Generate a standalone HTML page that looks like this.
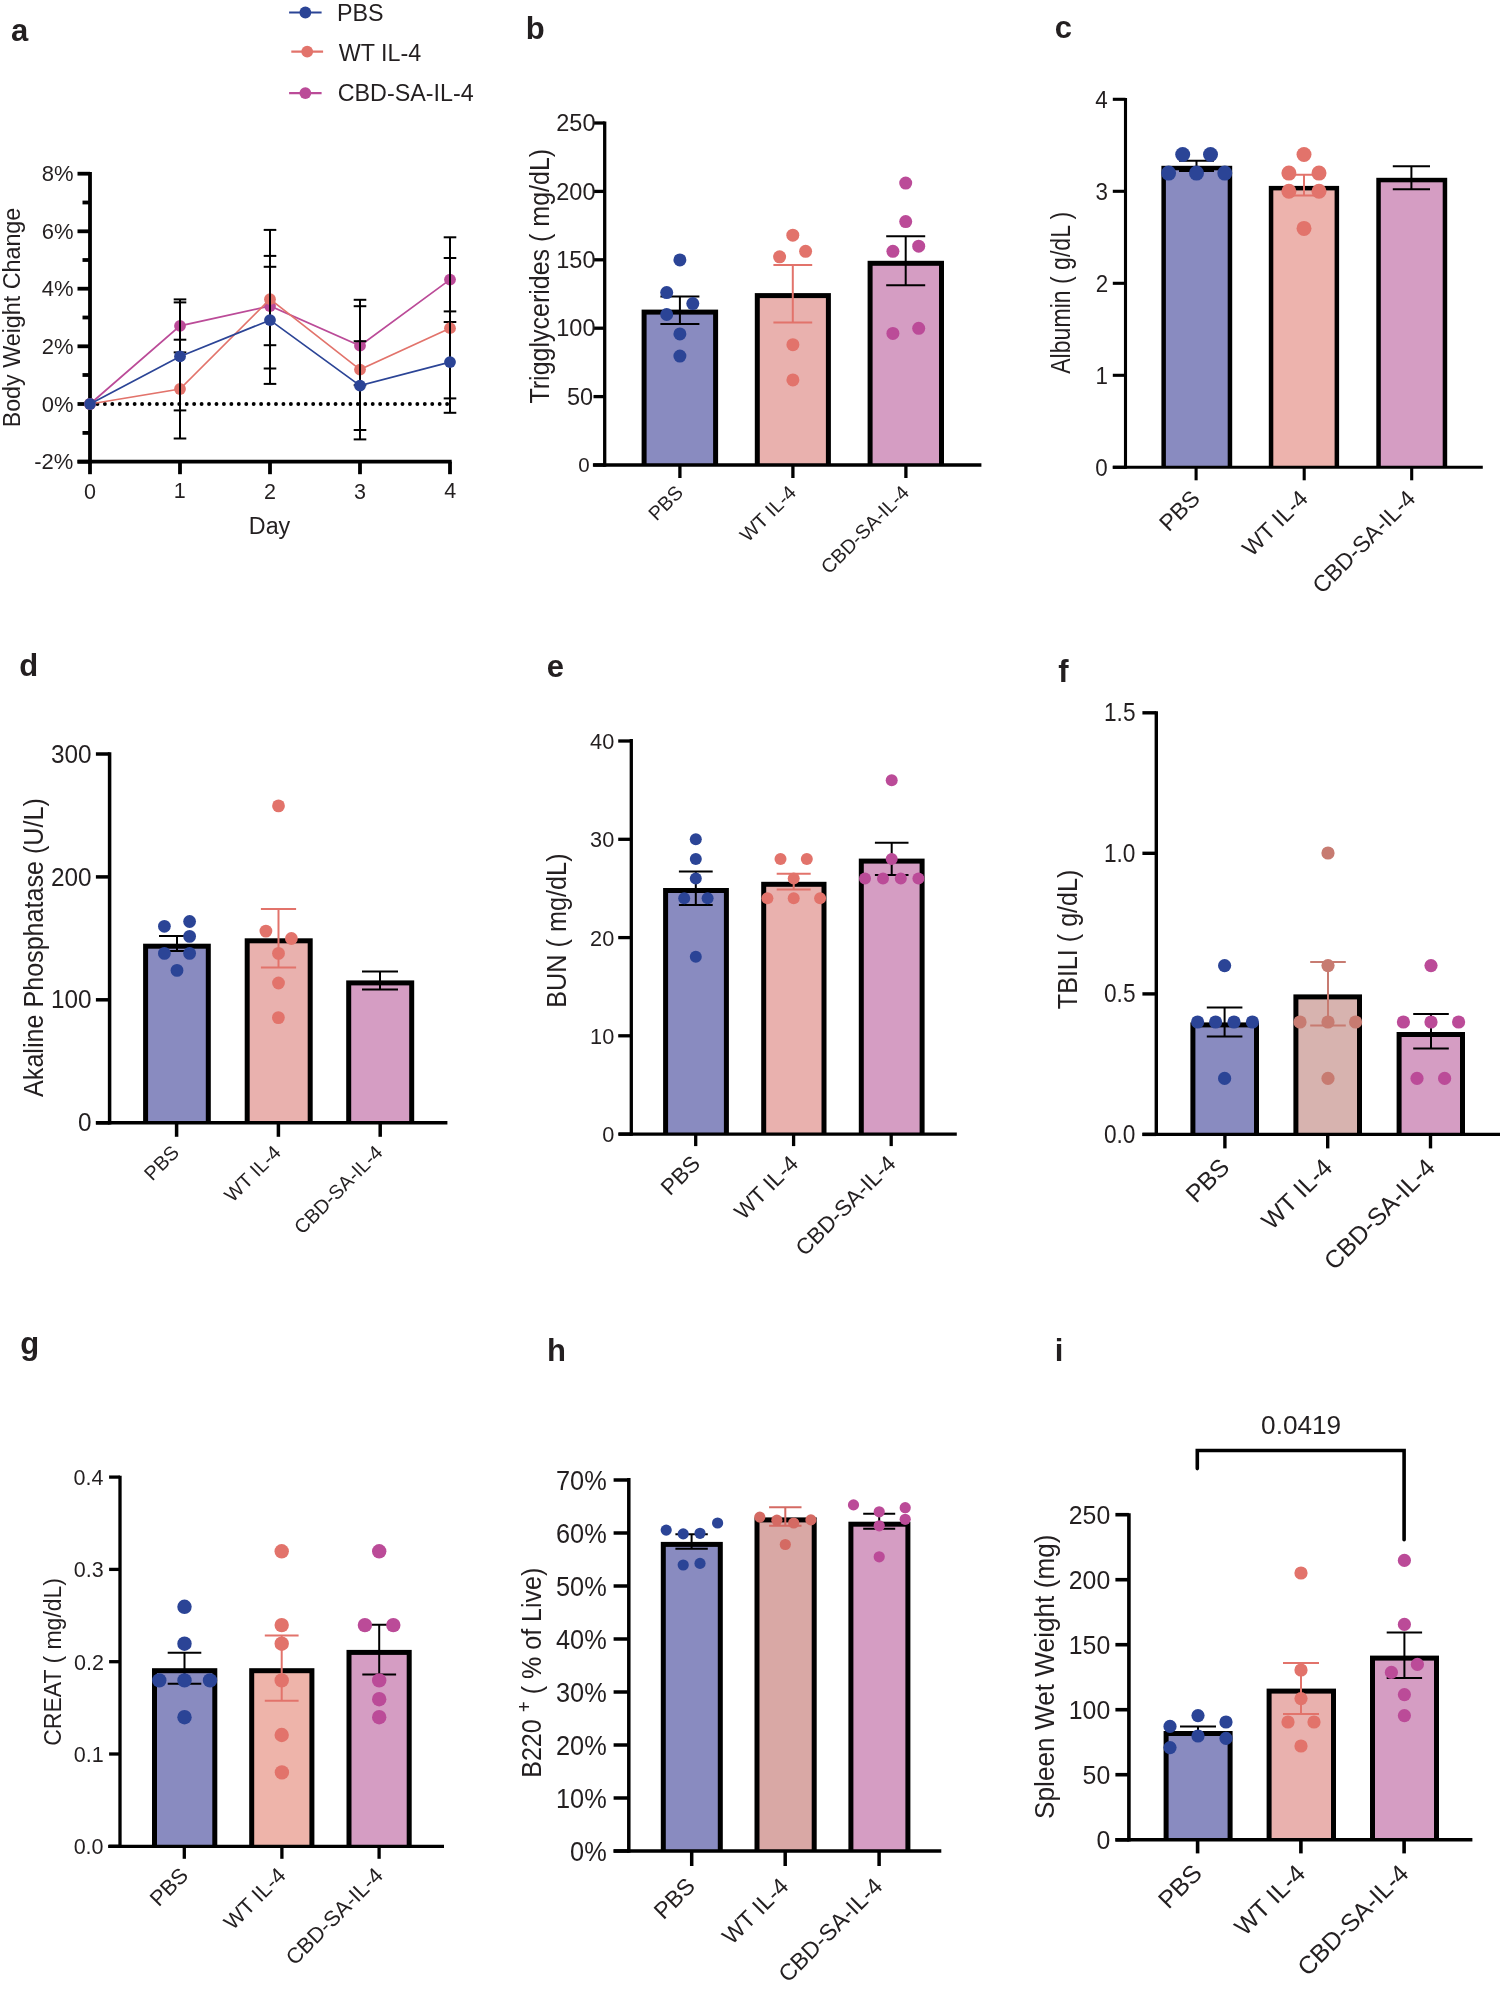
<!DOCTYPE html>
<html><head><meta charset="utf-8"><title>Figure</title>
<style>html,body{margin:0;padding:0;background:#fff;}svg{display:block;will-change:transform;}</style>
</head><body>
<svg width="1500" height="1989" viewBox="0 0 1500 1989" font-family='"Liberation Sans", sans-serif'>
<rect width="1500" height="1989" fill="#fff"/>
<text x="11.07" y="41.3" font-size="31" font-weight="bold" fill="#231f20">a</text>
<line x1="90" y1="404" x2="447.5" y2="404" stroke="#000" stroke-width="3.9" stroke-linecap="round" stroke-dasharray="0 7.44"/>
<line x1="90" y1="172" x2="90" y2="463.6" stroke="#000" stroke-width="3.8" stroke-linecap="butt"/>
<line x1="77.5" y1="461.7" x2="451.7" y2="461.7" stroke="#000" stroke-width="3.8" stroke-linecap="butt"/>
<line x1="77.5" y1="173.7" x2="90" y2="173.7" stroke="#000" stroke-width="3.8" stroke-linecap="butt"/>
<line x1="77.5" y1="231.3" x2="90" y2="231.3" stroke="#000" stroke-width="3.8" stroke-linecap="butt"/>
<line x1="77.5" y1="288.7" x2="90" y2="288.7" stroke="#000" stroke-width="3.8" stroke-linecap="butt"/>
<line x1="77.5" y1="346.3" x2="90" y2="346.3" stroke="#000" stroke-width="3.8" stroke-linecap="butt"/>
<line x1="77.5" y1="404" x2="90" y2="404" stroke="#000" stroke-width="3.8" stroke-linecap="butt"/>
<line x1="77.5" y1="461.7" x2="90" y2="461.7" stroke="#000" stroke-width="3.8" stroke-linecap="butt"/>
<line x1="82.5" y1="202.5" x2="90" y2="202.5" stroke="#000" stroke-width="3.8" stroke-linecap="butt"/>
<line x1="82.5" y1="260" x2="90" y2="260" stroke="#000" stroke-width="3.8" stroke-linecap="butt"/>
<line x1="82.5" y1="317.5" x2="90" y2="317.5" stroke="#000" stroke-width="3.8" stroke-linecap="butt"/>
<line x1="82.5" y1="375" x2="90" y2="375" stroke="#000" stroke-width="3.8" stroke-linecap="butt"/>
<line x1="82.5" y1="432.9" x2="90" y2="432.9" stroke="#000" stroke-width="3.8" stroke-linecap="butt"/>
<line x1="90" y1="461.7" x2="90" y2="474.2" stroke="#000" stroke-width="3.8" stroke-linecap="butt"/>
<line x1="180" y1="461.7" x2="180" y2="474.2" stroke="#000" stroke-width="3.8" stroke-linecap="butt"/>
<line x1="270" y1="461.7" x2="270" y2="474.2" stroke="#000" stroke-width="3.8" stroke-linecap="butt"/>
<line x1="360" y1="461.7" x2="360" y2="474.2" stroke="#000" stroke-width="3.8" stroke-linecap="butt"/>
<line x1="450" y1="461.7" x2="450" y2="474.2" stroke="#000" stroke-width="3.8" stroke-linecap="butt"/>
<text x="41.68" y="181.29" font-size="22" fill="#231f20">8%</text>
<text x="41.68" y="238.89" font-size="22" fill="#231f20">6%</text>
<text x="41.68" y="296.29" font-size="22" fill="#231f20">4%</text>
<text x="41.68" y="353.94" font-size="22" fill="#231f20">2%</text>
<text x="41.68" y="411.59" font-size="22" fill="#231f20">0%</text>
<text x="34.31" y="469.34" font-size="22" fill="#231f20">-2%</text>
<text x="83.98" y="498.55" font-size="21.5" fill="#231f20">0</text>
<text x="173.71" y="498.33" font-size="21.5" fill="#231f20">1</text>
<text x="264.03" y="498.55" font-size="21.5" fill="#231f20">2</text>
<text x="354.03" y="498.55" font-size="21.5" fill="#231f20">3</text>
<text x="444.14" y="498.33" font-size="21.5" fill="#231f20">4</text>
<text x="248.83" y="533.6" font-size="23.3" fill="#231f20">Day</text>
<text transform="translate(20.41,427.36) rotate(-90) scale(0.9668,1)" font-size="24.1" fill="#231f20">Body Weight Change</text>
<polyline points="90,404 180,325.9 270,306 360,345.7 450,279.6" fill="none" stroke="#bb4b98" stroke-width="1.7"/>
<line x1="180" y1="299.4" x2="180" y2="352.4" stroke="#000" stroke-width="2" stroke-linecap="butt"/>
<line x1="173.7" y1="299.4" x2="186.3" y2="299.4" stroke="#000" stroke-width="2" stroke-linecap="butt"/>
<line x1="173.7" y1="352.4" x2="186.3" y2="352.4" stroke="#000" stroke-width="2" stroke-linecap="butt"/>
<line x1="270" y1="266.8" x2="270" y2="345.2" stroke="#000" stroke-width="2" stroke-linecap="butt"/>
<line x1="263.7" y1="266.8" x2="276.3" y2="266.8" stroke="#000" stroke-width="2" stroke-linecap="butt"/>
<line x1="263.7" y1="345.2" x2="276.3" y2="345.2" stroke="#000" stroke-width="2" stroke-linecap="butt"/>
<line x1="360" y1="306.2" x2="360" y2="385.2" stroke="#000" stroke-width="2" stroke-linecap="butt"/>
<line x1="353.7" y1="306.2" x2="366.3" y2="306.2" stroke="#000" stroke-width="2" stroke-linecap="butt"/>
<line x1="353.7" y1="385.2" x2="366.3" y2="385.2" stroke="#000" stroke-width="2" stroke-linecap="butt"/>
<line x1="450" y1="237.3" x2="450" y2="322" stroke="#000" stroke-width="2" stroke-linecap="butt"/>
<line x1="443.7" y1="237.3" x2="456.3" y2="237.3" stroke="#000" stroke-width="2" stroke-linecap="butt"/>
<line x1="443.7" y1="322" x2="456.3" y2="322" stroke="#000" stroke-width="2" stroke-linecap="butt"/>
<circle cx="90" cy="404" r="5.9" fill="#bb4b98"/>
<circle cx="180" cy="325.9" r="5.9" fill="#bb4b98"/>
<circle cx="270" cy="306" r="5.9" fill="#bb4b98"/>
<circle cx="360" cy="345.7" r="5.9" fill="#bb4b98"/>
<circle cx="450" cy="279.6" r="5.9" fill="#bb4b98"/>
<polyline points="90,404 180,389 270,299.2 360,369.6 450,328.2" fill="none" stroke="#e2736b" stroke-width="1.7"/>
<line x1="180" y1="339.7" x2="180" y2="438.5" stroke="#000" stroke-width="2" stroke-linecap="butt"/>
<line x1="173.7" y1="339.7" x2="186.3" y2="339.7" stroke="#000" stroke-width="2" stroke-linecap="butt"/>
<line x1="173.7" y1="438.5" x2="186.3" y2="438.5" stroke="#000" stroke-width="2" stroke-linecap="butt"/>
<line x1="270" y1="229.9" x2="270" y2="368.5" stroke="#000" stroke-width="2" stroke-linecap="butt"/>
<line x1="263.7" y1="229.9" x2="276.3" y2="229.9" stroke="#000" stroke-width="2" stroke-linecap="butt"/>
<line x1="263.7" y1="368.5" x2="276.3" y2="368.5" stroke="#000" stroke-width="2" stroke-linecap="butt"/>
<line x1="360" y1="299.8" x2="360" y2="439.4" stroke="#000" stroke-width="2" stroke-linecap="butt"/>
<line x1="353.7" y1="299.8" x2="366.3" y2="299.8" stroke="#000" stroke-width="2" stroke-linecap="butt"/>
<line x1="353.7" y1="439.4" x2="366.3" y2="439.4" stroke="#000" stroke-width="2" stroke-linecap="butt"/>
<line x1="450" y1="258" x2="450" y2="398.4" stroke="#000" stroke-width="2" stroke-linecap="butt"/>
<line x1="443.7" y1="258" x2="456.3" y2="258" stroke="#000" stroke-width="2" stroke-linecap="butt"/>
<line x1="443.7" y1="398.4" x2="456.3" y2="398.4" stroke="#000" stroke-width="2" stroke-linecap="butt"/>
<circle cx="90" cy="404" r="5.9" fill="#e2736b"/>
<circle cx="180" cy="389" r="5.9" fill="#e2736b"/>
<circle cx="270" cy="299.2" r="5.9" fill="#e2736b"/>
<circle cx="360" cy="369.6" r="5.9" fill="#e2736b"/>
<circle cx="450" cy="328.2" r="5.9" fill="#e2736b"/>
<polyline points="90,404 180,356.4 270,320.1 360,385.6 450,362.1" fill="none" stroke="#2b4496" stroke-width="1.7"/>
<line x1="180" y1="302.4" x2="180" y2="410.4" stroke="#000" stroke-width="2" stroke-linecap="butt"/>
<line x1="173.7" y1="302.4" x2="186.3" y2="302.4" stroke="#000" stroke-width="2" stroke-linecap="butt"/>
<line x1="173.7" y1="410.4" x2="186.3" y2="410.4" stroke="#000" stroke-width="2" stroke-linecap="butt"/>
<line x1="270" y1="255.9" x2="270" y2="383.9" stroke="#000" stroke-width="2" stroke-linecap="butt"/>
<line x1="263.7" y1="255.9" x2="276.3" y2="255.9" stroke="#000" stroke-width="2" stroke-linecap="butt"/>
<line x1="263.7" y1="383.9" x2="276.3" y2="383.9" stroke="#000" stroke-width="2" stroke-linecap="butt"/>
<line x1="360" y1="341.2" x2="360" y2="430" stroke="#000" stroke-width="2" stroke-linecap="butt"/>
<line x1="353.7" y1="341.2" x2="366.3" y2="341.2" stroke="#000" stroke-width="2" stroke-linecap="butt"/>
<line x1="353.7" y1="430" x2="366.3" y2="430" stroke="#000" stroke-width="2" stroke-linecap="butt"/>
<line x1="450" y1="311.4" x2="450" y2="412.8" stroke="#000" stroke-width="2" stroke-linecap="butt"/>
<line x1="443.7" y1="311.4" x2="456.3" y2="311.4" stroke="#000" stroke-width="2" stroke-linecap="butt"/>
<line x1="443.7" y1="412.8" x2="456.3" y2="412.8" stroke="#000" stroke-width="2" stroke-linecap="butt"/>
<circle cx="90" cy="404" r="5.9" fill="#2b4496"/>
<circle cx="180" cy="356.4" r="5.9" fill="#2b4496"/>
<circle cx="270" cy="320.1" r="5.9" fill="#2b4496"/>
<circle cx="360" cy="385.6" r="5.9" fill="#2b4496"/>
<circle cx="450" cy="362.1" r="5.9" fill="#2b4496"/>
<line x1="289.1" y1="12.5" x2="321.6" y2="12.5" stroke="#2b4496" stroke-width="2.1" stroke-linecap="butt"/>
<circle cx="305.35" cy="12.5" r="5.9" fill="#2b4496"/>
<line x1="291.3" y1="51.6" x2="323.1" y2="51.6" stroke="#e2736b" stroke-width="2.1" stroke-linecap="butt"/>
<circle cx="307.2" cy="51.6" r="5.9" fill="#e2736b"/>
<line x1="289.1" y1="93.1" x2="321.6" y2="93.1" stroke="#bb4b98" stroke-width="2.1" stroke-linecap="butt"/>
<circle cx="305.35" cy="93.1" r="5.9" fill="#bb4b98"/>
<text x="337.04" y="20.5" font-size="23.3" fill="#231f20">PBS</text>
<text x="338.78" y="60.9" font-size="23.3" fill="#231f20">WT IL-4</text>
<text x="337.73" y="101.2" font-size="23.3" fill="#231f20">CBD-SA-IL-4</text>
<text x="525.78" y="38.6" font-size="31" font-weight="bold" fill="#231f20">b</text>
<rect x="641.6" y="309.6" width="76.5" height="155.4" fill="#000"/>
<rect x="646.6" y="314.6" width="66.5" height="150.4" fill="#898bc0"/>
<rect x="754.8" y="293.1" width="76.1" height="171.9" fill="#000"/>
<rect x="759.8" y="298.1" width="66.1" height="166.9" fill="#e9b1ae"/>
<rect x="867.6" y="260.8" width="76.4" height="204.2" fill="#000"/>
<rect x="872.6" y="265.8" width="66.4" height="199.2" fill="#d59dc3"/>
<line x1="604.7" y1="121.5" x2="604.7" y2="466.65" stroke="#000" stroke-width="3.3" stroke-linecap="butt"/>
<line x1="592.9" y1="465" x2="981.4" y2="465" stroke="#000" stroke-width="3.3" stroke-linecap="butt"/>
<line x1="593.5" y1="123" x2="604.7" y2="123" stroke="#000" stroke-width="3.3" stroke-linecap="butt"/>
<line x1="593.5" y1="191.4" x2="604.7" y2="191.4" stroke="#000" stroke-width="3.3" stroke-linecap="butt"/>
<line x1="593.5" y1="259.8" x2="604.7" y2="259.8" stroke="#000" stroke-width="3.3" stroke-linecap="butt"/>
<line x1="593.5" y1="328.2" x2="604.7" y2="328.2" stroke="#000" stroke-width="3.3" stroke-linecap="butt"/>
<line x1="593.5" y1="396.6" x2="604.7" y2="396.6" stroke="#000" stroke-width="3.3" stroke-linecap="butt"/>
<line x1="593.5" y1="465" x2="604.7" y2="465" stroke="#000" stroke-width="3.3" stroke-linecap="butt"/>
<line x1="679.9" y1="465" x2="679.9" y2="478" stroke="#000" stroke-width="3.3" stroke-linecap="butt"/>
<line x1="792.9" y1="465" x2="792.9" y2="478" stroke="#000" stroke-width="3.3" stroke-linecap="butt"/>
<line x1="905.9" y1="465" x2="905.9" y2="478" stroke="#000" stroke-width="3.3" stroke-linecap="butt"/>
<line x1="679.9" y1="296.4" x2="679.9" y2="323.9" stroke="#000" stroke-width="2" stroke-linecap="butt"/>
<line x1="660.4" y1="296.4" x2="699.4" y2="296.4" stroke="#000" stroke-width="2" stroke-linecap="butt"/>
<line x1="660.4" y1="323.9" x2="699.4" y2="323.9" stroke="#000" stroke-width="2" stroke-linecap="butt"/>
<line x1="792.8" y1="265" x2="792.8" y2="322.4" stroke="#e2736b" stroke-width="2" stroke-linecap="butt"/>
<line x1="773.4" y1="265" x2="812.2" y2="265" stroke="#e2736b" stroke-width="2" stroke-linecap="butt"/>
<line x1="773.4" y1="322.4" x2="812.2" y2="322.4" stroke="#e2736b" stroke-width="2" stroke-linecap="butt"/>
<line x1="905.7" y1="236.3" x2="905.7" y2="285.2" stroke="#000" stroke-width="2" stroke-linecap="butt"/>
<line x1="886.2" y1="236.3" x2="925.2" y2="236.3" stroke="#000" stroke-width="2" stroke-linecap="butt"/>
<line x1="886.2" y1="285.2" x2="925.2" y2="285.2" stroke="#000" stroke-width="2" stroke-linecap="butt"/>
<circle cx="679.9" cy="259.9" r="6.5" fill="#2b4496"/>
<circle cx="666.7" cy="292.6" r="6.5" fill="#2b4496"/>
<circle cx="692.8" cy="303.6" r="6.5" fill="#2b4496"/>
<circle cx="666.7" cy="314.5" r="6.5" fill="#2b4496"/>
<circle cx="679.9" cy="333.9" r="6.5" fill="#2b4496"/>
<circle cx="679.9" cy="356.1" r="6.5" fill="#2b4496"/>
<circle cx="792.8" cy="235.2" r="6.5" fill="#e2736b"/>
<circle cx="779.6" cy="256.8" r="6.5" fill="#e2736b"/>
<circle cx="805.6" cy="251.3" r="6.5" fill="#e2736b"/>
<circle cx="792.9" cy="344.7" r="6.5" fill="#e2736b"/>
<circle cx="792.9" cy="379.9" r="6.5" fill="#e2736b"/>
<circle cx="905.7" cy="183.1" r="6.5" fill="#bb4b98"/>
<circle cx="905.7" cy="221.6" r="6.5" fill="#bb4b98"/>
<circle cx="892.9" cy="251.3" r="6.5" fill="#bb4b98"/>
<circle cx="918.7" cy="246.2" r="6.5" fill="#bb4b98"/>
<circle cx="892.9" cy="333.4" r="6.5" fill="#bb4b98"/>
<circle cx="918.7" cy="328.3" r="6.5" fill="#bb4b98"/>
<text x="556.3" y="131.11" font-size="23.5" fill="#231f20">250</text>
<text x="556.3" y="199.51" font-size="23.5" fill="#231f20">200</text>
<text x="556.3" y="267.91" font-size="23.5" fill="#231f20">150</text>
<text x="556.3" y="336.31" font-size="23.5" fill="#231f20">100</text>
<text x="566.94" y="404.71" font-size="23.5" fill="#231f20">50</text>
<text x="578.24" y="472.07" font-size="20.5" fill="#231f20">0</text>
<text transform="translate(684.3,493.8) rotate(-45)" font-size="19.7" text-anchor="end" fill="#231f20">PBS</text>
<text transform="translate(797.3,493.8) rotate(-45)" font-size="19.7" text-anchor="end" fill="#231f20">WT IL-4</text>
<text transform="translate(910.3,493.8) rotate(-45)" font-size="19.7" text-anchor="end" fill="#231f20">CBD-SA-IL-4</text>
<text transform="translate(549.25,403.6) rotate(-90) scale(0.9266,1)" font-size="27" fill="#231f20">Trigglycerides ( mg/dL)</text>
<text x="1054.66" y="38.1" font-size="31" font-weight="bold" fill="#231f20">c</text>
<rect x="1161.4" y="165.8" width="70.8" height="301.5" fill="#000"/>
<rect x="1165.9" y="170.3" width="61.8" height="297" fill="#898bc0"/>
<rect x="1268.8" y="185.9" width="70.3" height="281.4" fill="#000"/>
<rect x="1273.3" y="190.4" width="61.3" height="276.9" fill="#edb3ad"/>
<rect x="1376.3" y="177.8" width="70.9" height="289.5" fill="#000"/>
<rect x="1380.8" y="182.3" width="61.9" height="285" fill="#d59dc3"/>
<line x1="1125.5" y1="97.9" x2="1125.5" y2="468.85" stroke="#000" stroke-width="3.1" stroke-linecap="butt"/>
<line x1="1112.8" y1="467.3" x2="1482.8" y2="467.3" stroke="#000" stroke-width="3.1" stroke-linecap="butt"/>
<line x1="1112.8" y1="99.3" x2="1125.5" y2="99.3" stroke="#000" stroke-width="3.1" stroke-linecap="butt"/>
<line x1="1112.8" y1="191.3" x2="1125.5" y2="191.3" stroke="#000" stroke-width="3.1" stroke-linecap="butt"/>
<line x1="1112.8" y1="283.3" x2="1125.5" y2="283.3" stroke="#000" stroke-width="3.1" stroke-linecap="butt"/>
<line x1="1112.8" y1="375.3" x2="1125.5" y2="375.3" stroke="#000" stroke-width="3.1" stroke-linecap="butt"/>
<line x1="1112.8" y1="467.3" x2="1125.5" y2="467.3" stroke="#000" stroke-width="3.1" stroke-linecap="butt"/>
<line x1="1196.1" y1="467.3" x2="1196.1" y2="480.3" stroke="#000" stroke-width="3.1" stroke-linecap="butt"/>
<line x1="1304.2" y1="467.3" x2="1304.2" y2="480.3" stroke="#000" stroke-width="3.1" stroke-linecap="butt"/>
<line x1="1411.7" y1="467.3" x2="1411.7" y2="480.3" stroke="#000" stroke-width="3.1" stroke-linecap="butt"/>
<line x1="1196.5" y1="160.7" x2="1196.5" y2="171" stroke="#000" stroke-width="2" stroke-linecap="butt"/>
<line x1="1179" y1="160.7" x2="1214" y2="160.7" stroke="#000" stroke-width="2" stroke-linecap="butt"/>
<line x1="1179" y1="171" x2="1214" y2="171" stroke="#000" stroke-width="2" stroke-linecap="butt"/>
<line x1="1304" y1="174.7" x2="1304" y2="195.4" stroke="#e2736b" stroke-width="2" stroke-linecap="butt"/>
<line x1="1287" y1="174.7" x2="1321" y2="174.7" stroke="#e2736b" stroke-width="2" stroke-linecap="butt"/>
<line x1="1287" y1="195.4" x2="1321" y2="195.4" stroke="#e2736b" stroke-width="2" stroke-linecap="butt"/>
<line x1="1411.4" y1="166.2" x2="1411.4" y2="189.2" stroke="#000" stroke-width="2" stroke-linecap="butt"/>
<line x1="1392.8" y1="166.2" x2="1430" y2="166.2" stroke="#000" stroke-width="2" stroke-linecap="butt"/>
<line x1="1392.8" y1="189.2" x2="1430" y2="189.2" stroke="#000" stroke-width="2" stroke-linecap="butt"/>
<circle cx="1182.7" cy="154.5" r="7.5" fill="#2b4496"/>
<circle cx="1210.5" cy="154.5" r="7.5" fill="#2b4496"/>
<circle cx="1168.6" cy="173.1" r="7.5" fill="#2b4496"/>
<circle cx="1196.5" cy="173.1" r="7.5" fill="#2b4496"/>
<circle cx="1224.8" cy="173.1" r="7.5" fill="#2b4496"/>
<circle cx="1304" cy="154.5" r="7.5" fill="#e2736b"/>
<circle cx="1288.9" cy="173.1" r="7.5" fill="#e2736b"/>
<circle cx="1319" cy="173.1" r="7.5" fill="#e2736b"/>
<circle cx="1288.9" cy="191.2" r="7.5" fill="#e2736b"/>
<circle cx="1319" cy="191.2" r="7.5" fill="#e2736b"/>
<circle cx="1304" cy="228.4" r="7.5" fill="#e2736b"/>
<text transform="translate(1095.25,107.65) scale(0.9250,1)" font-size="24.2" fill="#231f20">4</text>
<text transform="translate(1095.47,199.65) scale(0.9250,1)" font-size="24.2" fill="#231f20">3</text>
<text transform="translate(1095.7,291.77) scale(0.9250,1)" font-size="24.2" fill="#231f20">2</text>
<text transform="translate(1095.58,383.65) scale(0.9250,1)" font-size="24.2" fill="#231f20">1</text>
<text transform="translate(1095.36,475.65) scale(0.9250,1)" font-size="24.2" fill="#231f20">0</text>
<text transform="translate(1201.3,499.9) rotate(-45)" font-size="23" text-anchor="end" fill="#231f20">PBS</text>
<text transform="translate(1309.4,499.9) rotate(-45)" font-size="23" text-anchor="end" fill="#231f20">WT IL-4</text>
<text transform="translate(1416.9,499.9) rotate(-45)" font-size="23" text-anchor="end" fill="#231f20">CBD-SA-IL-4</text>
<text transform="translate(1070.46,373.8) rotate(-90) scale(0.8427,1)" font-size="27.4" fill="#231f20">Albumin ( g/dL )</text>
<text x="19.26" y="676.2" font-size="31" font-weight="bold" fill="#231f20">d</text>
<rect x="143.1" y="943.7" width="67.7" height="179.1" fill="#000"/>
<rect x="148.1" y="948.7" width="57.7" height="174.1" fill="#898bc0"/>
<rect x="244.7" y="938.3" width="68" height="184.5" fill="#000"/>
<rect x="249.7" y="943.3" width="58" height="179.5" fill="#e9b1ae"/>
<rect x="346.2" y="980.4" width="68" height="142.4" fill="#000"/>
<rect x="351.2" y="985.4" width="58" height="137.4" fill="#d59dc3"/>
<line x1="109.6" y1="752.2" x2="109.6" y2="1124.55" stroke="#000" stroke-width="3.5" stroke-linecap="butt"/>
<line x1="95.9" y1="1122.8" x2="447.4" y2="1122.8" stroke="#000" stroke-width="3.5" stroke-linecap="butt"/>
<line x1="95.9" y1="754" x2="109.6" y2="754" stroke="#000" stroke-width="3.5" stroke-linecap="butt"/>
<line x1="95.9" y1="876.9" x2="109.6" y2="876.9" stroke="#000" stroke-width="3.5" stroke-linecap="butt"/>
<line x1="95.9" y1="999.8" x2="109.6" y2="999.8" stroke="#000" stroke-width="3.5" stroke-linecap="butt"/>
<line x1="95.9" y1="1122.8" x2="109.6" y2="1122.8" stroke="#000" stroke-width="3.5" stroke-linecap="butt"/>
<line x1="176.6" y1="1122.8" x2="176.6" y2="1136.8" stroke="#000" stroke-width="3.5" stroke-linecap="butt"/>
<line x1="278.4" y1="1122.8" x2="278.4" y2="1136.8" stroke="#000" stroke-width="3.5" stroke-linecap="butt"/>
<line x1="380.2" y1="1122.8" x2="380.2" y2="1136.8" stroke="#000" stroke-width="3.5" stroke-linecap="butt"/>
<line x1="177" y1="936" x2="177" y2="951.1" stroke="#000" stroke-width="2" stroke-linecap="butt"/>
<line x1="159" y1="936" x2="195" y2="936" stroke="#000" stroke-width="2" stroke-linecap="butt"/>
<line x1="159" y1="951.1" x2="195" y2="951.1" stroke="#000" stroke-width="2" stroke-linecap="butt"/>
<line x1="278.5" y1="908.9" x2="278.5" y2="967.5" stroke="#e2736b" stroke-width="2" stroke-linecap="butt"/>
<line x1="260.9" y1="908.9" x2="296.1" y2="908.9" stroke="#e2736b" stroke-width="2" stroke-linecap="butt"/>
<line x1="260.9" y1="967.5" x2="296.1" y2="967.5" stroke="#e2736b" stroke-width="2" stroke-linecap="butt"/>
<line x1="380" y1="971.4" x2="380" y2="989.5" stroke="#000" stroke-width="2" stroke-linecap="butt"/>
<line x1="362" y1="971.4" x2="398" y2="971.4" stroke="#000" stroke-width="2" stroke-linecap="butt"/>
<line x1="362" y1="989.5" x2="398" y2="989.5" stroke="#000" stroke-width="2" stroke-linecap="butt"/>
<circle cx="164.4" cy="926.3" r="6.4" fill="#2b4496"/>
<circle cx="189.6" cy="921.5" r="6.4" fill="#2b4496"/>
<circle cx="189.6" cy="936.4" r="6.4" fill="#2b4496"/>
<circle cx="164.4" cy="953.4" r="6.4" fill="#2b4496"/>
<circle cx="189.6" cy="953.4" r="6.4" fill="#2b4496"/>
<circle cx="177" cy="970.4" r="6.4" fill="#2b4496"/>
<circle cx="278.5" cy="805.9" r="6.4" fill="#e2736b"/>
<circle cx="265.9" cy="931.1" r="6.4" fill="#e2736b"/>
<circle cx="291.4" cy="938.5" r="6.4" fill="#e2736b"/>
<circle cx="278.5" cy="953.4" r="6.4" fill="#e2736b"/>
<circle cx="278.5" cy="983" r="6.4" fill="#e2736b"/>
<circle cx="278.4" cy="1017.6" r="6.4" fill="#e2736b"/>
<text transform="translate(50.91,762.66) scale(0.9700,1)" font-size="25.1" fill="#231f20">300</text>
<text transform="translate(50.91,885.56) scale(0.9700,1)" font-size="25.1" fill="#231f20">200</text>
<text transform="translate(50.91,1008.46) scale(0.9700,1)" font-size="25.1" fill="#231f20">100</text>
<text transform="translate(77.94,1131.46) scale(0.9700,1)" font-size="25.1" fill="#231f20">0</text>
<text transform="translate(180.3,1153.7) rotate(-45)" font-size="19.8" text-anchor="end" fill="#231f20">PBS</text>
<text transform="translate(282.1,1153.7) rotate(-45)" font-size="19.8" text-anchor="end" fill="#231f20">WT IL-4</text>
<text transform="translate(383.9,1153.7) rotate(-45)" font-size="19.8" text-anchor="end" fill="#231f20">CBD-SA-IL-4</text>
<text transform="translate(43.33,1096.9) rotate(-90) scale(0.9335,1)" font-size="26.9" fill="#231f20">Akaline Phosphatase (U/L)</text>
<text x="546.76" y="676.6" font-size="31" font-weight="bold" fill="#231f20">e</text>
<rect x="663.1" y="888" width="65.8" height="246.1" fill="#000"/>
<rect x="668.1" y="893" width="55.8" height="241.1" fill="#898bc0"/>
<rect x="761.2" y="881.8" width="65.3" height="252.3" fill="#000"/>
<rect x="766.2" y="886.8" width="55.3" height="247.3" fill="#e9b1ae"/>
<rect x="858.8" y="858.6" width="65.8" height="275.5" fill="#000"/>
<rect x="863.8" y="863.6" width="55.8" height="270.5" fill="#d59dc3"/>
<line x1="631.3" y1="739" x2="631.3" y2="1135.75" stroke="#000" stroke-width="3.3" stroke-linecap="butt"/>
<line x1="618.9" y1="1134.1" x2="956.8" y2="1134.1" stroke="#000" stroke-width="3.3" stroke-linecap="butt"/>
<line x1="618.2" y1="741" x2="631.3" y2="741" stroke="#000" stroke-width="3.3" stroke-linecap="butt"/>
<line x1="618.2" y1="839.3" x2="631.3" y2="839.3" stroke="#000" stroke-width="3.3" stroke-linecap="butt"/>
<line x1="618.2" y1="937.6" x2="631.3" y2="937.6" stroke="#000" stroke-width="3.3" stroke-linecap="butt"/>
<line x1="618.2" y1="1035.8" x2="631.3" y2="1035.8" stroke="#000" stroke-width="3.3" stroke-linecap="butt"/>
<line x1="618.2" y1="1134.1" x2="631.3" y2="1134.1" stroke="#000" stroke-width="3.3" stroke-linecap="butt"/>
<line x1="695.7" y1="1134.1" x2="695.7" y2="1146.1" stroke="#000" stroke-width="3.3" stroke-linecap="butt"/>
<line x1="793.6" y1="1134.1" x2="793.6" y2="1146.1" stroke="#000" stroke-width="3.3" stroke-linecap="butt"/>
<line x1="891.2" y1="1134.1" x2="891.2" y2="1146.1" stroke="#000" stroke-width="3.3" stroke-linecap="butt"/>
<line x1="695.8" y1="871.6" x2="695.8" y2="905" stroke="#000" stroke-width="2" stroke-linecap="butt"/>
<line x1="678.9" y1="871.6" x2="712.7" y2="871.6" stroke="#000" stroke-width="2" stroke-linecap="butt"/>
<line x1="678.9" y1="905" x2="712.7" y2="905" stroke="#000" stroke-width="2" stroke-linecap="butt"/>
<line x1="793.7" y1="873.7" x2="793.7" y2="889.5" stroke="#e2736b" stroke-width="2" stroke-linecap="butt"/>
<line x1="776.7" y1="873.7" x2="810.7" y2="873.7" stroke="#e2736b" stroke-width="2" stroke-linecap="butt"/>
<line x1="776.7" y1="889.5" x2="810.7" y2="889.5" stroke="#e2736b" stroke-width="2" stroke-linecap="butt"/>
<line x1="891.7" y1="842.8" x2="891.7" y2="875" stroke="#000" stroke-width="2" stroke-linecap="butt"/>
<line x1="874.9" y1="842.8" x2="908.5" y2="842.8" stroke="#000" stroke-width="2" stroke-linecap="butt"/>
<line x1="874.9" y1="875" x2="908.5" y2="875" stroke="#000" stroke-width="2" stroke-linecap="butt"/>
<circle cx="695.8" cy="839.3" r="6" fill="#2b4496"/>
<circle cx="695.8" cy="859" r="6" fill="#2b4496"/>
<circle cx="695.8" cy="878.5" r="6" fill="#2b4496"/>
<circle cx="684.2" cy="898.2" r="6" fill="#2b4496"/>
<circle cx="707.6" cy="898.2" r="6" fill="#2b4496"/>
<circle cx="695.8" cy="956.8" r="6" fill="#2b4496"/>
<circle cx="780.5" cy="859" r="6" fill="#e2736b"/>
<circle cx="806.8" cy="859" r="6" fill="#e2736b"/>
<circle cx="793.7" cy="878.5" r="6" fill="#e2736b"/>
<circle cx="767.4" cy="898.2" r="6" fill="#e2736b"/>
<circle cx="793.7" cy="898.2" r="6" fill="#e2736b"/>
<circle cx="820.1" cy="898.2" r="6" fill="#e2736b"/>
<circle cx="891.7" cy="780.3" r="6" fill="#bb4b98"/>
<circle cx="891.7" cy="859" r="6" fill="#bb4b98"/>
<circle cx="865" cy="878.5" r="6" fill="#bb4b98"/>
<circle cx="883" cy="878.5" r="6" fill="#bb4b98"/>
<circle cx="900.8" cy="878.5" r="6" fill="#bb4b98"/>
<circle cx="918.4" cy="878.5" r="6" fill="#bb4b98"/>
<text transform="translate(590.11,748.9) scale(0.9500,1)" font-size="22.9" fill="#231f20">40</text>
<text transform="translate(590.11,847.2) scale(0.9500,1)" font-size="22.9" fill="#231f20">30</text>
<text transform="translate(590.11,945.5) scale(0.9500,1)" font-size="22.9" fill="#231f20">20</text>
<text transform="translate(590.11,1043.7) scale(0.9500,1)" font-size="22.9" fill="#231f20">10</text>
<text transform="translate(602.19,1142) scale(0.9500,1)" font-size="22.9" fill="#231f20">0</text>
<text transform="translate(701.55,1164.85) rotate(-45)" font-size="22.35" text-anchor="end" fill="#231f20">PBS</text>
<text transform="translate(799.45,1164.85) rotate(-45)" font-size="22.35" text-anchor="end" fill="#231f20">WT IL-4</text>
<text transform="translate(897.05,1164.85) rotate(-45)" font-size="22.35" text-anchor="end" fill="#231f20">CBD-SA-IL-4</text>
<text transform="translate(565.93,1007.72) rotate(-90) scale(0.9384,1)" font-size="26.9" fill="#231f20">BUN ( mg/dL)</text>
<text x="1058.34" y="681.9" font-size="31" font-weight="bold" fill="#231f20">f</text>
<rect x="1190.4" y="1022.4" width="68.6" height="112" fill="#000"/>
<rect x="1195.4" y="1027.4" width="58.6" height="107" fill="#898bc0"/>
<rect x="1293.4" y="994.4" width="68.6" height="140" fill="#000"/>
<rect x="1298.4" y="999.4" width="58.6" height="135" fill="#d7b3af"/>
<rect x="1396.6" y="1032" width="68.4" height="102.4" fill="#000"/>
<rect x="1401.6" y="1037" width="58.4" height="97.4" fill="#d59dc3"/>
<line x1="1156.3" y1="711.2" x2="1156.3" y2="1136.1" stroke="#000" stroke-width="3.4" stroke-linecap="butt"/>
<line x1="1142.4" y1="1134.4" x2="1500" y2="1134.4" stroke="#000" stroke-width="3.4" stroke-linecap="butt"/>
<line x1="1142.4" y1="712.8" x2="1156.3" y2="712.8" stroke="#000" stroke-width="3.4" stroke-linecap="butt"/>
<line x1="1142.4" y1="853.3" x2="1156.3" y2="853.3" stroke="#000" stroke-width="3.4" stroke-linecap="butt"/>
<line x1="1142.4" y1="993.9" x2="1156.3" y2="993.9" stroke="#000" stroke-width="3.4" stroke-linecap="butt"/>
<line x1="1142.4" y1="1134.4" x2="1156.3" y2="1134.4" stroke="#000" stroke-width="3.4" stroke-linecap="butt"/>
<line x1="1224.9" y1="1134.4" x2="1224.9" y2="1148.4" stroke="#000" stroke-width="3.4" stroke-linecap="butt"/>
<line x1="1327.7" y1="1134.4" x2="1327.7" y2="1148.4" stroke="#000" stroke-width="3.4" stroke-linecap="butt"/>
<line x1="1430.5" y1="1134.4" x2="1430.5" y2="1148.4" stroke="#000" stroke-width="3.4" stroke-linecap="butt"/>
<line x1="1224.6" y1="1007.4" x2="1224.6" y2="1036.6" stroke="#000" stroke-width="2" stroke-linecap="butt"/>
<line x1="1206.8" y1="1007.4" x2="1242.4" y2="1007.4" stroke="#000" stroke-width="2" stroke-linecap="butt"/>
<line x1="1206.8" y1="1036.6" x2="1242.4" y2="1036.6" stroke="#000" stroke-width="2" stroke-linecap="butt"/>
<line x1="1328" y1="962" x2="1328" y2="1025.4" stroke="#c77b71" stroke-width="2" stroke-linecap="butt"/>
<line x1="1310.2" y1="962" x2="1345.8" y2="962" stroke="#c77b71" stroke-width="2" stroke-linecap="butt"/>
<line x1="1310.2" y1="1025.4" x2="1345.8" y2="1025.4" stroke="#c77b71" stroke-width="2" stroke-linecap="butt"/>
<line x1="1431" y1="1014" x2="1431" y2="1048.6" stroke="#000" stroke-width="2" stroke-linecap="butt"/>
<line x1="1413.2" y1="1014" x2="1448.8" y2="1014" stroke="#000" stroke-width="2" stroke-linecap="butt"/>
<line x1="1413.2" y1="1048.6" x2="1448.8" y2="1048.6" stroke="#000" stroke-width="2" stroke-linecap="butt"/>
<circle cx="1224.6" cy="965.6" r="6.6" fill="#2b4496"/>
<circle cx="1197.6" cy="1022" r="6.6" fill="#2b4496"/>
<circle cx="1215.6" cy="1022" r="6.6" fill="#2b4496"/>
<circle cx="1234" cy="1022" r="6.6" fill="#2b4496"/>
<circle cx="1252.4" cy="1022" r="6.6" fill="#2b4496"/>
<circle cx="1224.6" cy="1078.4" r="6.6" fill="#2b4496"/>
<circle cx="1328" cy="853" r="6.6" fill="#c77b71"/>
<circle cx="1328" cy="965.6" r="6.6" fill="#c77b71"/>
<circle cx="1300" cy="1022" r="6.6" fill="#c77b71"/>
<circle cx="1328" cy="1022" r="6.6" fill="#c77b71"/>
<circle cx="1355.6" cy="1022" r="6.6" fill="#c77b71"/>
<circle cx="1328" cy="1078.4" r="6.6" fill="#c77b71"/>
<circle cx="1431" cy="965.6" r="6.6" fill="#bb4b98"/>
<circle cx="1403.4" cy="1022" r="6.6" fill="#bb4b98"/>
<circle cx="1431" cy="1022" r="6.6" fill="#bb4b98"/>
<circle cx="1458.6" cy="1022" r="6.6" fill="#bb4b98"/>
<circle cx="1417" cy="1078.4" r="6.6" fill="#bb4b98"/>
<circle cx="1444.6" cy="1078.4" r="6.6" fill="#bb4b98"/>
<text transform="translate(1104.01,721.27) scale(0.9100,1)" font-size="24.9" fill="#231f20">1.5</text>
<text transform="translate(1103.9,861.89) scale(0.9100,1)" font-size="24.9" fill="#231f20">1.0</text>
<text transform="translate(1104.01,1002.49) scale(0.9100,1)" font-size="24.9" fill="#231f20">0.5</text>
<text transform="translate(1103.9,1142.99) scale(0.9100,1)" font-size="24.9" fill="#231f20">0.0</text>
<text transform="translate(1231,1168.9) rotate(-45)" font-size="24.8" text-anchor="end" fill="#231f20">PBS</text>
<text transform="translate(1333.8,1168.9) rotate(-45)" font-size="24.8" text-anchor="end" fill="#231f20">WT IL-4</text>
<text transform="translate(1436.6,1168.9) rotate(-45)" font-size="24.8" text-anchor="end" fill="#231f20">CBD-SA-IL-4</text>
<text transform="translate(1077.4,1009.2) rotate(-90) scale(0.9371,1)" font-size="26.8" fill="#231f20">TBILI ( g/dL)</text>
<text x="20.26" y="1354.1" font-size="31" font-weight="bold" fill="#231f20">g</text>
<rect x="152" y="1668.2" width="65.3" height="178.1" fill="#000"/>
<rect x="157" y="1673.2" width="55.3" height="173.1" fill="#898bc0"/>
<rect x="249.2" y="1668.2" width="65.2" height="178.1" fill="#000"/>
<rect x="254.2" y="1673.2" width="55.2" height="173.1" fill="#eeb4aa"/>
<rect x="346.5" y="1649.9" width="65.2" height="196.4" fill="#000"/>
<rect x="351.5" y="1654.9" width="55.2" height="191.4" fill="#d59dc3"/>
<line x1="120" y1="1475.7" x2="120" y2="1847.95" stroke="#000" stroke-width="3.3" stroke-linecap="butt"/>
<line x1="108.1" y1="1846.3" x2="444" y2="1846.3" stroke="#000" stroke-width="3.3" stroke-linecap="butt"/>
<line x1="109.1" y1="1477.1" x2="120" y2="1477.1" stroke="#000" stroke-width="3.3" stroke-linecap="butt"/>
<line x1="109.1" y1="1569.4" x2="120" y2="1569.4" stroke="#000" stroke-width="3.3" stroke-linecap="butt"/>
<line x1="109.1" y1="1661.7" x2="120" y2="1661.7" stroke="#000" stroke-width="3.3" stroke-linecap="butt"/>
<line x1="109.1" y1="1754" x2="120" y2="1754" stroke="#000" stroke-width="3.3" stroke-linecap="butt"/>
<line x1="109.1" y1="1846.3" x2="120" y2="1846.3" stroke="#000" stroke-width="3.3" stroke-linecap="butt"/>
<line x1="184.3" y1="1846.3" x2="184.3" y2="1858.8" stroke="#000" stroke-width="3.3" stroke-linecap="butt"/>
<line x1="281.9" y1="1846.3" x2="281.9" y2="1858.8" stroke="#000" stroke-width="3.3" stroke-linecap="butt"/>
<line x1="379.1" y1="1846.3" x2="379.1" y2="1858.8" stroke="#000" stroke-width="3.3" stroke-linecap="butt"/>
<line x1="184.5" y1="1652.8" x2="184.5" y2="1683.7" stroke="#000" stroke-width="2" stroke-linecap="butt"/>
<line x1="167.7" y1="1652.8" x2="201.3" y2="1652.8" stroke="#000" stroke-width="2" stroke-linecap="butt"/>
<line x1="167.7" y1="1683.7" x2="201.3" y2="1683.7" stroke="#000" stroke-width="2" stroke-linecap="butt"/>
<line x1="281.7" y1="1635.6" x2="281.7" y2="1700.7" stroke="#e2736b" stroke-width="2" stroke-linecap="butt"/>
<line x1="264.8" y1="1635.6" x2="298.6" y2="1635.6" stroke="#e2736b" stroke-width="2" stroke-linecap="butt"/>
<line x1="264.8" y1="1700.7" x2="298.6" y2="1700.7" stroke="#e2736b" stroke-width="2" stroke-linecap="butt"/>
<line x1="379.2" y1="1624.7" x2="379.2" y2="1674.6" stroke="#000" stroke-width="2" stroke-linecap="butt"/>
<line x1="362.3" y1="1624.7" x2="396.1" y2="1624.7" stroke="#000" stroke-width="2" stroke-linecap="butt"/>
<line x1="362.3" y1="1674.6" x2="396.1" y2="1674.6" stroke="#000" stroke-width="2" stroke-linecap="butt"/>
<circle cx="184.5" cy="1606.8" r="7.2" fill="#2b4496"/>
<circle cx="184.5" cy="1643.7" r="7.2" fill="#2b4496"/>
<circle cx="159.3" cy="1680.4" r="7.2" fill="#2b4496"/>
<circle cx="184.5" cy="1680.4" r="7.2" fill="#2b4496"/>
<circle cx="210" cy="1680.4" r="7.2" fill="#2b4496"/>
<circle cx="184.5" cy="1717.2" r="7.2" fill="#2b4496"/>
<circle cx="281.7" cy="1551.3" r="7.2" fill="#e2736b"/>
<circle cx="281.7" cy="1625.1" r="7.2" fill="#e2736b"/>
<circle cx="281.7" cy="1643.7" r="7.2" fill="#e2736b"/>
<circle cx="281.7" cy="1680.4" r="7.2" fill="#e2736b"/>
<circle cx="281.7" cy="1735" r="7.2" fill="#e2736b"/>
<circle cx="281.9" cy="1772.4" r="7.2" fill="#e2736b"/>
<circle cx="379.2" cy="1551.3" r="7.2" fill="#bb4b98"/>
<circle cx="364.9" cy="1625.1" r="7.2" fill="#bb4b98"/>
<circle cx="393.3" cy="1625.1" r="7.2" fill="#bb4b98"/>
<circle cx="379.2" cy="1680.4" r="7.2" fill="#bb4b98"/>
<circle cx="379.2" cy="1699.2" r="7.2" fill="#bb4b98"/>
<circle cx="379.2" cy="1717.2" r="7.2" fill="#bb4b98"/>
<text transform="translate(73.52,1485) scale(0.9400,1)" font-size="22.9" fill="#231f20">0.4</text>
<text transform="translate(73.74,1577.3) scale(0.9400,1)" font-size="22.9" fill="#231f20">0.3</text>
<text transform="translate(73.96,1669.6) scale(0.9400,1)" font-size="22.9" fill="#231f20">0.2</text>
<text transform="translate(73.85,1761.9) scale(0.9400,1)" font-size="22.9" fill="#231f20">0.1</text>
<text transform="translate(73.63,1854.2) scale(0.9400,1)" font-size="22.9" fill="#231f20">0.0</text>
<text transform="translate(189.4,1876.8) rotate(-45)" font-size="21.7" text-anchor="end" fill="#231f20">PBS</text>
<text transform="translate(287,1876.8) rotate(-45)" font-size="21.7" text-anchor="end" fill="#231f20">WT IL-4</text>
<text transform="translate(384.2,1876.8) rotate(-45)" font-size="21.7" text-anchor="end" fill="#231f20">CBD-SA-IL-4</text>
<text transform="translate(60.84,1745.75) rotate(-90) scale(0.9271,1)" font-size="24.8" fill="#231f20">CREAT ( mg/dL)</text>
<text x="546.93" y="1360.9" font-size="31" font-weight="bold" fill="#231f20">h</text>
<rect x="660.8" y="1541.9" width="62" height="309.1" fill="#000"/>
<rect x="665.8" y="1546.9" width="52" height="304.1" fill="#898bc0"/>
<rect x="754.5" y="1517.4" width="62.2" height="333.6" fill="#000"/>
<rect x="759.5" y="1522.4" width="52.2" height="328.6" fill="#d9a8a5"/>
<rect x="848.4" y="1521.7" width="62" height="329.3" fill="#000"/>
<rect x="853.4" y="1526.7" width="52" height="324.3" fill="#d59dc3"/>
<line x1="628.8" y1="1478.1" x2="628.8" y2="1852.75" stroke="#000" stroke-width="3.5" stroke-linecap="butt"/>
<line x1="613.6" y1="1851" x2="941.3" y2="1851" stroke="#000" stroke-width="3.5" stroke-linecap="butt"/>
<line x1="613.6" y1="1480" x2="628.8" y2="1480" stroke="#000" stroke-width="3.5" stroke-linecap="butt"/>
<line x1="613.6" y1="1533" x2="628.8" y2="1533" stroke="#000" stroke-width="3.5" stroke-linecap="butt"/>
<line x1="613.6" y1="1586" x2="628.8" y2="1586" stroke="#000" stroke-width="3.5" stroke-linecap="butt"/>
<line x1="613.6" y1="1639" x2="628.8" y2="1639" stroke="#000" stroke-width="3.5" stroke-linecap="butt"/>
<line x1="613.6" y1="1692" x2="628.8" y2="1692" stroke="#000" stroke-width="3.5" stroke-linecap="butt"/>
<line x1="613.6" y1="1745" x2="628.8" y2="1745" stroke="#000" stroke-width="3.5" stroke-linecap="butt"/>
<line x1="613.6" y1="1798" x2="628.8" y2="1798" stroke="#000" stroke-width="3.5" stroke-linecap="butt"/>
<line x1="613.6" y1="1851" x2="628.8" y2="1851" stroke="#000" stroke-width="3.5" stroke-linecap="butt"/>
<line x1="691.7" y1="1851" x2="691.7" y2="1866" stroke="#000" stroke-width="3.5" stroke-linecap="butt"/>
<line x1="785.2" y1="1851" x2="785.2" y2="1866" stroke="#000" stroke-width="3.5" stroke-linecap="butt"/>
<line x1="879.1" y1="1851" x2="879.1" y2="1866" stroke="#000" stroke-width="3.5" stroke-linecap="butt"/>
<line x1="691.6" y1="1534.2" x2="691.6" y2="1548.8" stroke="#000" stroke-width="2" stroke-linecap="butt"/>
<line x1="675.4" y1="1534.2" x2="707.8" y2="1534.2" stroke="#000" stroke-width="2" stroke-linecap="butt"/>
<line x1="675.4" y1="1548.8" x2="707.8" y2="1548.8" stroke="#000" stroke-width="2" stroke-linecap="butt"/>
<line x1="785.3" y1="1507.2" x2="785.3" y2="1525.8" stroke="#d46a63" stroke-width="2" stroke-linecap="butt"/>
<line x1="769.1" y1="1507.2" x2="801.5" y2="1507.2" stroke="#d46a63" stroke-width="2" stroke-linecap="butt"/>
<line x1="769.1" y1="1525.8" x2="801.5" y2="1525.8" stroke="#d46a63" stroke-width="2" stroke-linecap="butt"/>
<line x1="879.2" y1="1513.7" x2="879.2" y2="1528.8" stroke="#000" stroke-width="2" stroke-linecap="butt"/>
<line x1="863.2" y1="1513.7" x2="895.2" y2="1513.7" stroke="#000" stroke-width="2" stroke-linecap="butt"/>
<line x1="863.2" y1="1528.8" x2="895.2" y2="1528.8" stroke="#000" stroke-width="2" stroke-linecap="butt"/>
<circle cx="666.2" cy="1530.1" r="5.6" fill="#2b4496"/>
<circle cx="683.2" cy="1533.9" r="5.6" fill="#2b4496"/>
<circle cx="700" cy="1533.3" r="5.6" fill="#2b4496"/>
<circle cx="717.6" cy="1523" r="5.6" fill="#2b4496"/>
<circle cx="683.2" cy="1565" r="5.6" fill="#2b4496"/>
<circle cx="700" cy="1563.4" r="5.6" fill="#2b4496"/>
<circle cx="759.8" cy="1517.1" r="5.6" fill="#d46a63"/>
<circle cx="776.9" cy="1520.2" r="5.6" fill="#d46a63"/>
<circle cx="793.7" cy="1523" r="5.6" fill="#d46a63"/>
<circle cx="810.9" cy="1519.9" r="5.6" fill="#d46a63"/>
<circle cx="785.3" cy="1544.5" r="5.6" fill="#d46a63"/>
<circle cx="853.5" cy="1504.9" r="5.6" fill="#bb4b98"/>
<circle cx="879.2" cy="1511.8" r="5.6" fill="#bb4b98"/>
<circle cx="905.2" cy="1507.7" r="5.6" fill="#bb4b98"/>
<circle cx="905.2" cy="1519.3" r="5.6" fill="#bb4b98"/>
<circle cx="879.2" cy="1525.8" r="5.6" fill="#bb4b98"/>
<circle cx="879.2" cy="1556.8" r="5.6" fill="#bb4b98"/>
<text transform="translate(556,1489.56) scale(0.9150,1)" font-size="27.7" fill="#231f20">70%</text>
<text transform="translate(556,1542.56) scale(0.9150,1)" font-size="27.7" fill="#231f20">60%</text>
<text transform="translate(556,1595.56) scale(0.9150,1)" font-size="27.7" fill="#231f20">50%</text>
<text transform="translate(556,1648.56) scale(0.9150,1)" font-size="27.7" fill="#231f20">40%</text>
<text transform="translate(556,1701.56) scale(0.9150,1)" font-size="27.7" fill="#231f20">30%</text>
<text transform="translate(556,1754.56) scale(0.9150,1)" font-size="27.7" fill="#231f20">20%</text>
<text transform="translate(556,1807.56) scale(0.9150,1)" font-size="27.7" fill="#231f20">10%</text>
<text transform="translate(570.06,1860.56) scale(0.9150,1)" font-size="27.7" fill="#231f20">0%</text>
<text transform="translate(696.5,1887.6) rotate(-45)" font-size="23.25" text-anchor="end" fill="#231f20">PBS</text>
<text transform="translate(790,1887.6) rotate(-45)" font-size="23.25" text-anchor="end" fill="#231f20">WT IL-4</text>
<text transform="translate(883.9,1887.6) rotate(-45)" font-size="23.25" text-anchor="end" fill="#231f20">CBD-SA-IL-4</text>
<text transform="translate(540.95,1777.81) rotate(-90) scale(0.9285,1)" font-size="27" fill="#231f20">B220 <tspan font-size="20.25" dy="-10.26">+</tspan><tspan dy="10.26"> ( % of Live)</tspan></text>
<text x="1054.73" y="1360.9" font-size="31" font-weight="bold" fill="#231f20">i</text>
<rect x="1163.6" y="1731" width="69" height="108.8" fill="#000"/>
<rect x="1168.6" y="1736" width="59" height="103.8" fill="#898bc0"/>
<rect x="1266.6" y="1688.6" width="69.4" height="151.2" fill="#000"/>
<rect x="1271.6" y="1693.6" width="59.4" height="146.2" fill="#e9b1ae"/>
<rect x="1370" y="1655.6" width="69" height="184.2" fill="#000"/>
<rect x="1375" y="1660.6" width="59" height="179.2" fill="#d59dc3"/>
<line x1="1128.9" y1="1513.3" x2="1128.9" y2="1841.6" stroke="#000" stroke-width="3.6" stroke-linecap="butt"/>
<line x1="1115.4" y1="1839.8" x2="1472.4" y2="1839.8" stroke="#000" stroke-width="3.6" stroke-linecap="butt"/>
<line x1="1115.4" y1="1514.7" x2="1128.9" y2="1514.7" stroke="#000" stroke-width="3.6" stroke-linecap="butt"/>
<line x1="1115.4" y1="1579.7" x2="1128.9" y2="1579.7" stroke="#000" stroke-width="3.6" stroke-linecap="butt"/>
<line x1="1115.4" y1="1644.7" x2="1128.9" y2="1644.7" stroke="#000" stroke-width="3.6" stroke-linecap="butt"/>
<line x1="1115.4" y1="1709.7" x2="1128.9" y2="1709.7" stroke="#000" stroke-width="3.6" stroke-linecap="butt"/>
<line x1="1115.4" y1="1774.7" x2="1128.9" y2="1774.7" stroke="#000" stroke-width="3.6" stroke-linecap="butt"/>
<line x1="1115.4" y1="1839.8" x2="1128.9" y2="1839.8" stroke="#000" stroke-width="3.6" stroke-linecap="butt"/>
<line x1="1197.6" y1="1839.8" x2="1197.6" y2="1853.4" stroke="#000" stroke-width="3.6" stroke-linecap="butt"/>
<line x1="1300.9" y1="1839.8" x2="1300.9" y2="1853.4" stroke="#000" stroke-width="3.6" stroke-linecap="butt"/>
<line x1="1404.1" y1="1839.8" x2="1404.1" y2="1853.4" stroke="#000" stroke-width="3.6" stroke-linecap="butt"/>
<line x1="1198" y1="1726.6" x2="1198" y2="1735" stroke="#000" stroke-width="2" stroke-linecap="butt"/>
<line x1="1180" y1="1726.6" x2="1216" y2="1726.6" stroke="#000" stroke-width="2" stroke-linecap="butt"/>
<line x1="1180" y1="1735" x2="1216" y2="1735" stroke="#000" stroke-width="2" stroke-linecap="butt"/>
<line x1="1301" y1="1663" x2="1301" y2="1714" stroke="#e2736b" stroke-width="2" stroke-linecap="butt"/>
<line x1="1283" y1="1663" x2="1319" y2="1663" stroke="#e2736b" stroke-width="2" stroke-linecap="butt"/>
<line x1="1283" y1="1714" x2="1319" y2="1714" stroke="#e2736b" stroke-width="2" stroke-linecap="butt"/>
<line x1="1404.4" y1="1632.6" x2="1404.4" y2="1678" stroke="#000" stroke-width="2" stroke-linecap="butt"/>
<line x1="1386.7" y1="1632.6" x2="1422.1" y2="1632.6" stroke="#000" stroke-width="2" stroke-linecap="butt"/>
<line x1="1386.7" y1="1678" x2="1422.1" y2="1678" stroke="#000" stroke-width="2" stroke-linecap="butt"/>
<circle cx="1198" cy="1715.6" r="6.6" fill="#2b4496"/>
<circle cx="1170" cy="1726.4" r="6.6" fill="#2b4496"/>
<circle cx="1226" cy="1722" r="6.6" fill="#2b4496"/>
<circle cx="1198" cy="1736" r="6.6" fill="#2b4496"/>
<circle cx="1226" cy="1738.4" r="6.6" fill="#2b4496"/>
<circle cx="1170" cy="1747.6" r="6.6" fill="#2b4496"/>
<circle cx="1301" cy="1573" r="6.6" fill="#e2736b"/>
<circle cx="1301" cy="1670" r="6.6" fill="#e2736b"/>
<circle cx="1301" cy="1698.6" r="6.6" fill="#e2736b"/>
<circle cx="1288" cy="1722" r="6.6" fill="#e2736b"/>
<circle cx="1314" cy="1722" r="6.6" fill="#e2736b"/>
<circle cx="1301" cy="1746" r="6.6" fill="#e2736b"/>
<circle cx="1404.4" cy="1560.4" r="6.6" fill="#bb4b98"/>
<circle cx="1404.4" cy="1624.4" r="6.6" fill="#bb4b98"/>
<circle cx="1417.4" cy="1664.4" r="6.6" fill="#bb4b98"/>
<circle cx="1391.4" cy="1672.4" r="6.6" fill="#bb4b98"/>
<circle cx="1404.4" cy="1694.6" r="6.6" fill="#bb4b98"/>
<circle cx="1404.4" cy="1715.6" r="6.6" fill="#bb4b98"/>
<text transform="translate(1068.82,1523.53) scale(0.9700,1)" font-size="25.6" fill="#231f20">250</text>
<text transform="translate(1068.82,1588.53) scale(0.9700,1)" font-size="25.6" fill="#231f20">200</text>
<text transform="translate(1068.82,1653.53) scale(0.9700,1)" font-size="25.6" fill="#231f20">150</text>
<text transform="translate(1068.82,1718.53) scale(0.9700,1)" font-size="25.6" fill="#231f20">100</text>
<text transform="translate(1082.61,1783.53) scale(0.9700,1)" font-size="25.6" fill="#231f20">50</text>
<text transform="translate(1096.39,1848.63) scale(0.9700,1)" font-size="25.6" fill="#231f20">0</text>
<text transform="translate(1203.5,1874.9) rotate(-45)" font-size="24.8" text-anchor="end" fill="#231f20">PBS</text>
<text transform="translate(1306.8,1874.9) rotate(-45)" font-size="24.8" text-anchor="end" fill="#231f20">WT IL-4</text>
<text transform="translate(1410,1874.9) rotate(-45)" font-size="24.8" text-anchor="end" fill="#231f20">CBD-SA-IL-4</text>
<text transform="translate(1054.08,1818.98) rotate(-90) scale(0.9532,1)" font-size="27.5" fill="#231f20">Spleen Wet Weight (mg)</text>
<polyline points="1197.3,1468.6 1197.3,1450.5 1404.1,1450.5 1404.1,1539.8" fill="none" stroke="#000" stroke-width="3.6" stroke-linecap="round"/>
<text x="1261.08" y="1434.1" font-size="26.2" fill="#231f20">0.0419</text>
</svg>
</body></html>
